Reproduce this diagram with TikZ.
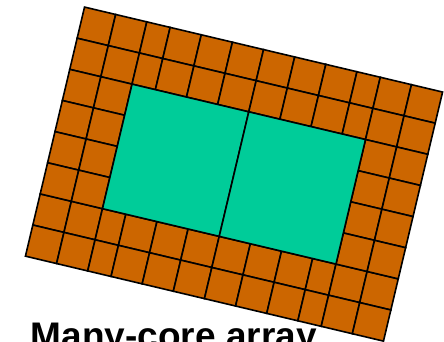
\documentclass[tikz,border=0pt]{standalone}
\usepackage{fontspec}
\newfontfamily\labelfont{Liberation Sans}
\definecolor{coreorange}{RGB}{204,102,0}
\definecolor{coregreen}{RGB}{0,204,153}
\tikzset{
  cell/.style={fill=coreorange, draw=black, line width=1.6pt},
  bigcore/.style={fill=coregreen, draw=black, line width=1.6pt},
  caption/.style={font=\labelfont\bfseries\fontsize{37}{40}\selectfont, inner sep=0pt, anchor=base west}
}
\begin{document}
\begin{tikzpicture}
\useasboundingbox (0,0) rectangle (444pt,-342pt);
\begin{scope}[shift={(234pt,-174.1pt)}, rotate=-13.35, x=1pt, y=-1pt, shift={(-184,-128)}]
  % top two and bottom two rows
  \foreach \r in {0,32,192,224}{
    \foreach \a/\b in {0/32,32/64,64/88,88/120,120/152,152/184,184/216,216/248,248/280,280/304,304/336,336/368}{
      \draw[cell] (\a,\r) rectangle (\b,\r+32);
    }
  }
  % side columns for middle rows
  \foreach \r in {64,96,128,160}{
    \foreach \a/\b in {0/32,32/64,304/336,336/368}{
      \draw[cell] (\a,\r) rectangle (\b,\r+32);
    }
  }
  % big cores
  \draw[bigcore] (64,64) rectangle (184,192);
  \draw[bigcore] (184,64) rectangle (304,192);
\end{scope}
\node[caption] (cap) at (30.6pt,-348.2pt) {Many-core array};
\end{tikzpicture}
\end{document}
